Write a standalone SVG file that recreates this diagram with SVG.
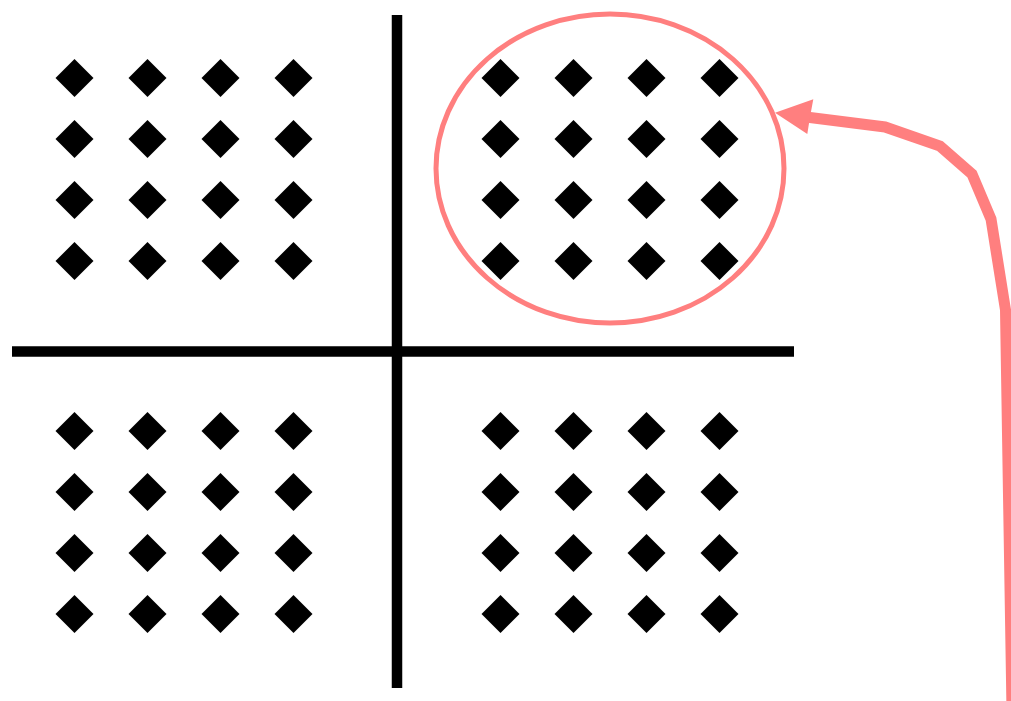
<svg xmlns="http://www.w3.org/2000/svg" width="1011" height="701" viewBox="0 0 1011 701">
<defs>
<style>
.axis{stroke:#000;stroke-width:10.5;fill:none}
.sel{stroke:#FF7F7F;stroke-width:5;fill:none}
.link{stroke:#FF7F7F;stroke-width:11;fill:none;stroke-linejoin:miter}
.arrow{fill:#FF7F7F;stroke:none}
</style>
<polygon id="d" points="0,-19 19,0 0,19 -19,0" fill="#000"/>
<g id="grid">
<use href="#d" x="0" y="0"/><use href="#d" x="73" y="0"/><use href="#d" x="146" y="0"/><use href="#d" x="219" y="0"/>
<use href="#d" x="0" y="61"/><use href="#d" x="73" y="61"/><use href="#d" x="146" y="61"/><use href="#d" x="219" y="61"/>
<use href="#d" x="0" y="122"/><use href="#d" x="73" y="122"/><use href="#d" x="146" y="122"/><use href="#d" x="219" y="122"/>
<use href="#d" x="0" y="183"/><use href="#d" x="73" y="183"/><use href="#d" x="146" y="183"/><use href="#d" x="219" y="183"/>
</g>
</defs>
<rect width="1011" height="701" fill="#fff"/>
<g id="axes">
<line class="axis" x1="397" y1="15" x2="397" y2="688"/>
<line class="axis" x1="12" y1="351.5" x2="794" y2="351.5"/>
</g>
<g id="quadrant-top-left"><use href="#grid" x="74.5" y="78"/></g>
<g id="quadrant-top-right"><use href="#grid" x="500.5" y="78"/></g>
<g id="quadrant-bottom-left"><use href="#grid" x="74.5" y="431"/></g>
<g id="quadrant-bottom-right"><use href="#grid" x="500.5" y="431"/></g>
<g id="selection"><ellipse class="sel" cx="610" cy="168.5" rx="174" ry="154.5"/></g>
<g id="connectors">
<polyline class="link" points="806,117 885,127 940,146 972,174 991,219 1005.5,310 1012,710"/>
<polygon class="arrow" points="775,112.7 813.3,99.3 810,117 807.3,134"/>
</g>
</svg>
